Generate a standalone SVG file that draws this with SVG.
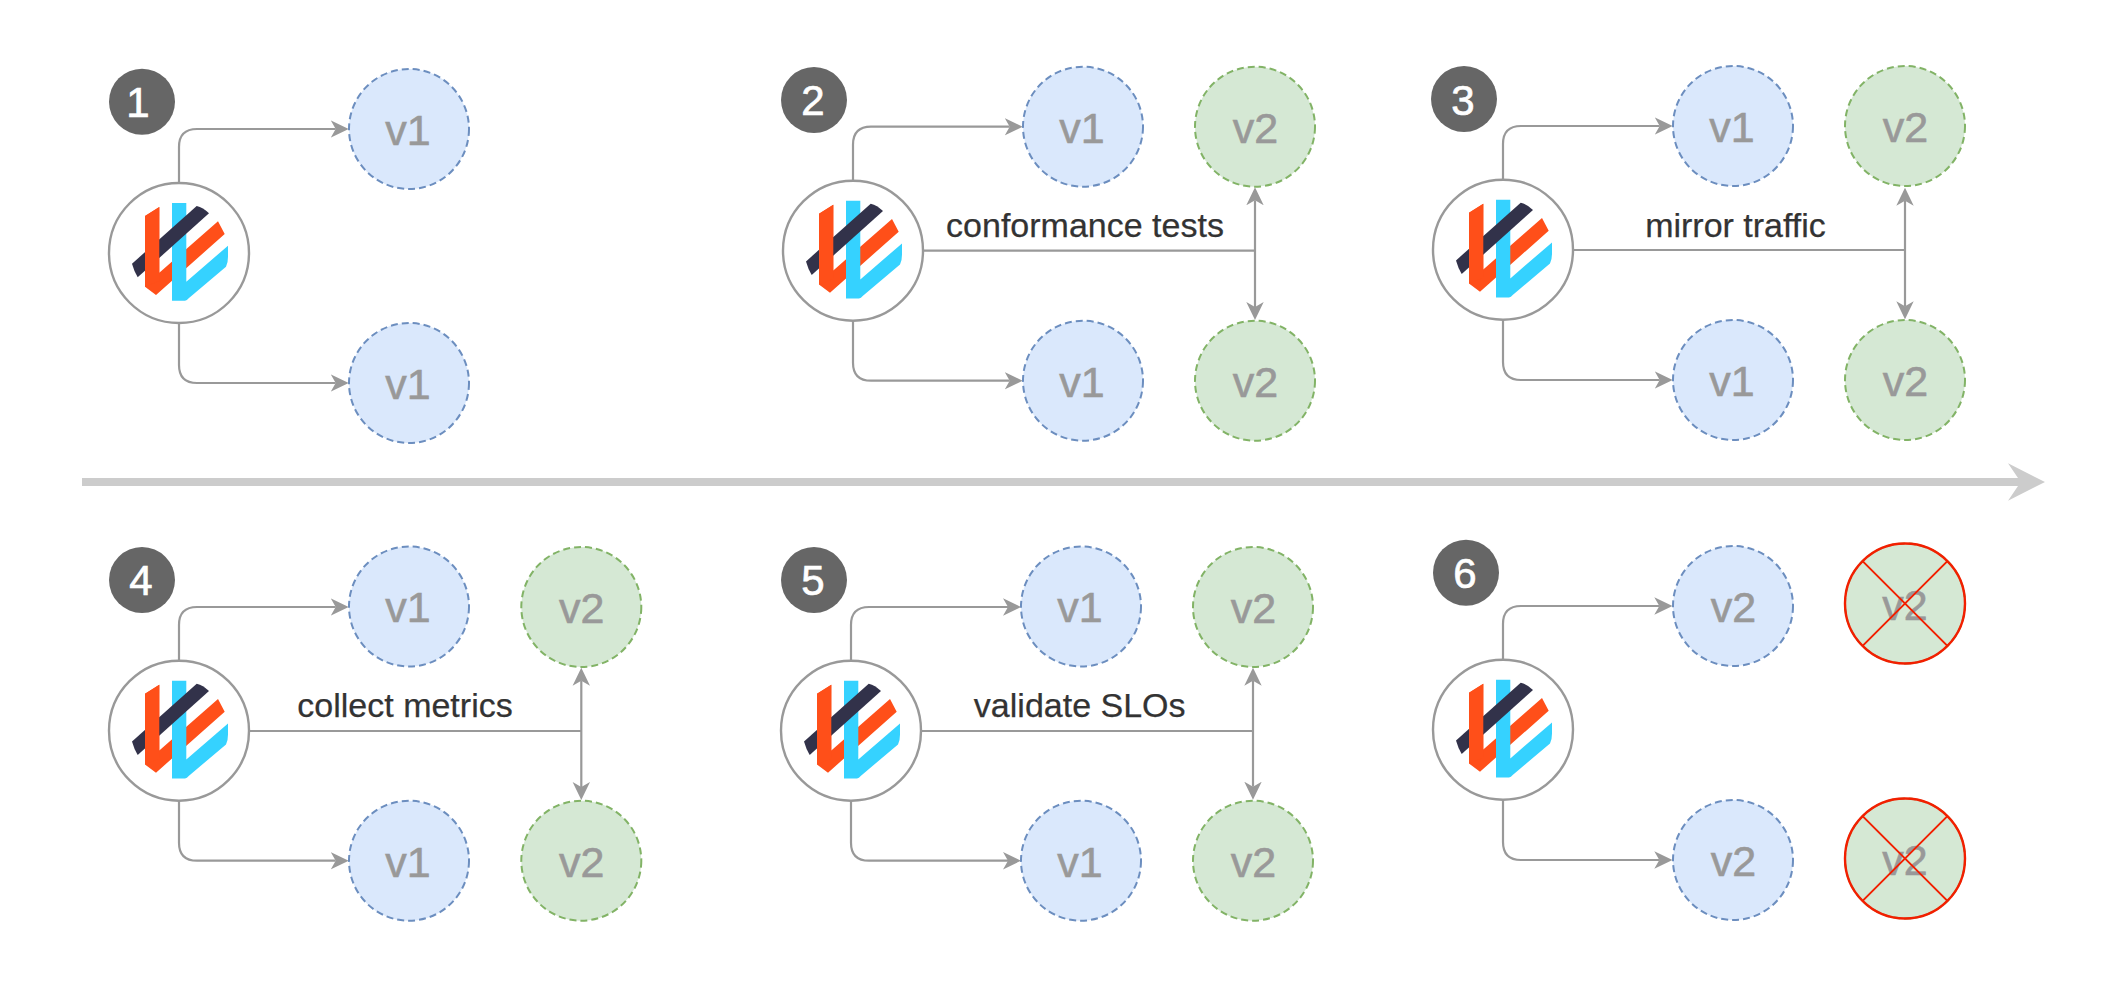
<svg xmlns="http://www.w3.org/2000/svg" width="2116" height="982" viewBox="0 0 2116 982">
<style>
text{font-family:"Liberation Sans",Arial,sans-serif}
.c{fill:none;stroke:#999;stroke-width:2.2}
.a{marker-end:url(#arr)}
.d{marker-start:url(#arr);marker-end:url(#arr)}
.logo{fill:#fff;stroke:#999;stroke-width:2.4}
.b{fill:#666}
.bt{fill:#fff;stroke:#fff;stroke-width:.7;font-size:42px;text-anchor:middle}
.v1c{fill:#dae8fc;stroke:#6c8ebf;stroke-width:2;stroke-dasharray:7 4}
.v2c{fill:#d5e8d4;stroke:#82b366;stroke-width:2;stroke-dasharray:7 4}
.vt{fill:#999;stroke:#999;stroke-width:.6;font-size:43px;text-anchor:middle}
.lb{fill:#333;stroke:#333;stroke-width:.25;font-size:34px;text-anchor:middle}
.x{fill:none;stroke:#f21f00;stroke-width:2.4}
.xl{fill:none;stroke:#f21f00;stroke-width:2}
</style>
<defs>
<marker id="arr" markerUnits="userSpaceOnUse" viewBox="0 0 18 18" refX="5" refY="9" markerWidth="18" markerHeight="18" orient="auto-start-reverse"><path d="M0 .3L18 9L0 17.7L5 9Z" fill="#999"/></marker>
<g id="lg">
<circle class="logo" r="70"/>
<path fill="#ff4f19" d="M-34-37L-19.7-46V19.7L39-31.7L45.7-19L-23 42L-34 33.7Z"/>
<path fill="#35d2ff" d="M-7-50H7.3V28.7L49-7.3V3.7Q49 10 47 13.7L9.7 45.3Q8 47.7 6 47.7H-7Z"/>
<path fill="#32324a" d="M-47 10.7L17.7-47Q24-45.5 30-39.7L-41.3 24.3Q-45 18-47 10.7Z"/>
<path fill="#ff4f19" d="M-34-37L-19.7-46V28L-34 33.7Z"/>
</g>
</defs>
<rect width="2116" height="982" fill="#fff"/>
<g id="connectors">
<path class="c a" d="M179 183V147Q179 129 197 129H335.7"/>
<path class="c a" d="M179 323V365Q179 383 197 383H335.7"/>
<path class="c a" d="M853 180.7V144.7Q853 126.7 871 126.7H1009.7"/>
<path class="c a" d="M853 320.7V362.7Q853 380.7 871 380.7H1009.7"/>
<path class="c" d="M923 250.7H1255"/>
<path class="c d" d="M1255 200.3V307"/>
<path class="c a" d="M1503 179.7V144Q1503 126 1521 126H1659.7"/>
<path class="c a" d="M1503 319.7V362Q1503 380 1521 380H1659.7"/>
<path class="c" d="M1573 250H1905"/>
<path class="c d" d="M1905 200.7V306.3"/>
<path class="c a" d="M179 660.7V625Q179 607 197 607H335.7"/>
<path class="c a" d="M179 800.7V842.7Q179 860.7 197 860.7H335.7"/>
<path class="c" d="M249 731H581.3"/>
<path class="c d" d="M581.3 680.7V787"/>
<path class="c a" d="M851 660.7V625Q851 607 869 607H1008"/>
<path class="c a" d="M851 800.7V842.7Q851 860.7 869 860.7H1008"/>
<path class="c" d="M921 731H1253"/>
<path class="c d" d="M1253 680.7V786.7"/>
<path class="c a" d="M1503 659.7V624Q1503 606 1521 606H1659.3"/>
<path class="c a" d="M1503 799.7V842Q1503 860 1521 860H1659.3"/>
<path d="M82 478H2018L2008 463.3L2045 482L2008 500.7L2018 486H82Z" fill="#ccc"/>
</g>
<g id="panel1">
<g id="badge1"><circle class="b" cx="142" cy="101.7" r="33"/><text class="bt" x="138" y="117">1</text></g>
<g id="proxy1"><use href="#lg" x="179" y="253"/></g>
<g id="p1-v1a"><circle class="v1c" cx="409" cy="129" r="60"/><text class="vt" x="408" y="145">v1</text></g>
<g id="p1-v1b"><circle class="v1c" cx="409" cy="383" r="60"/><text class="vt" x="408" y="399">v1</text></g>
</g>
<g id="panel2">
<g id="badge2"><circle class="b" cx="814" cy="100" r="33"/><text class="bt" x="813" y="115">2</text></g>
<g id="proxy2"><use href="#lg" x="853" y="250.7"/></g>
<g id="p2-v1a"><circle class="v1c" cx="1083" cy="126.7" r="60"/><text class="vt" x="1082" y="142.5">v1</text></g>
<g id="p2-v1b"><circle class="v1c" cx="1083" cy="380.7" r="60"/><text class="vt" x="1082" y="396.5">v1</text></g>
<g id="p2-v2a"><circle class="v2c" cx="1255" cy="126.7" r="60"/><text class="vt" x="1255.5" y="142.5">v2</text></g>
<g id="p2-v2b"><circle class="v2c" cx="1255" cy="380.7" r="60"/><text class="vt" x="1255.5" y="396.5">v2</text></g>
<text class="lb" x="1085" y="237">conformance tests</text>
</g>
<g id="panel3">
<g id="badge3"><circle class="b" cx="1464" cy="99" r="33"/><text class="bt" x="1463" y="115">3</text></g>
<g id="proxy3"><use href="#lg" x="1503" y="249.7"/></g>
<g id="p3-v1a"><circle class="v1c" cx="1733" cy="126" r="60"/><text class="vt" x="1732" y="141.5">v1</text></g>
<g id="p3-v1b"><circle class="v1c" cx="1733" cy="380" r="60"/><text class="vt" x="1732" y="395.5">v1</text></g>
<g id="p3-v2a"><circle class="v2c" cx="1905" cy="126" r="60"/><text class="vt" x="1905.5" y="141.5">v2</text></g>
<g id="p3-v2b"><circle class="v2c" cx="1905" cy="380" r="60"/><text class="vt" x="1905.5" y="395.5">v2</text></g>
<text class="lb" x="1735.5" y="237">mirror traffic</text>
</g>
<g id="panel4">
<g id="badge4"><circle class="b" cx="142" cy="580" r="33"/><text class="bt" x="141" y="595">4</text></g>
<g id="proxy4"><use href="#lg" x="179" y="730.7"/></g>
<g id="p4-v1a"><circle class="v1c" cx="409" cy="606.5" r="60"/><text class="vt" x="408" y="622">v1</text></g>
<g id="p4-v1b"><circle class="v1c" cx="409" cy="860.7" r="60"/><text class="vt" x="408" y="876.5">v1</text></g>
<g id="p4-v2a"><circle class="v2c" cx="581.3" cy="607" r="60"/><text class="vt" x="581.8" y="622.5">v2</text></g>
<g id="p4-v2b"><circle class="v2c" cx="581.3" cy="860.7" r="60"/><text class="vt" x="581.8" y="876.5">v2</text></g>
<text class="lb" x="405" y="717">collect metrics</text>
</g>
<g id="panel5">
<g id="badge5"><circle class="b" cx="814" cy="580" r="33"/><text class="bt" x="813" y="595">5</text></g>
<g id="proxy5"><use href="#lg" x="851" y="730.7"/></g>
<g id="p5-v1a"><circle class="v1c" cx="1081" cy="606.5" r="60"/><text class="vt" x="1080" y="622">v1</text></g>
<g id="p5-v1b"><circle class="v1c" cx="1081" cy="860.7" r="60"/><text class="vt" x="1080" y="876.5">v1</text></g>
<g id="p5-v2a"><circle class="v2c" cx="1253" cy="607" r="60"/><text class="vt" x="1253.5" y="622.5">v2</text></g>
<g id="p5-v2b"><circle class="v2c" cx="1253" cy="860.7" r="60"/><text class="vt" x="1253.5" y="876.5">v2</text></g>
<text class="lb" x="1079.7" y="717">validate SLOs</text>
</g>
<g id="panel6">
<g id="badge6"><circle class="b" cx="1466" cy="572.7" r="33"/><text class="bt" x="1465" y="588">6</text></g>
<g id="proxy6"><use href="#lg" x="1503" y="729.7"/></g>
<g id="p6-v2a"><circle class="v1c" cx="1733" cy="606" r="60"/><text class="vt" x="1733.5" y="621.5">v2</text></g>
<g id="p6-v2b"><circle class="v1c" cx="1733" cy="860" r="60"/><text class="vt" x="1733.5" y="875.5">v2</text></g>
<g id="p6-x1"><circle class="v2c" cx="1905" cy="603.5" r="60"/><text class="vt" x="1905" y="620">v2</text><circle class="x" cx="1905" cy="603.5" r="60"/><path class="xl" d="M1862.6 561.1L1947.4 645.9M1947.4 561.1L1862.6 645.9"/></g>
<g id="p6-x2"><circle class="v2c" cx="1905" cy="858.5" r="60"/><text class="vt" x="1905" y="875">v2</text><circle class="x" cx="1905" cy="858.5" r="60"/><path class="xl" d="M1862.6 816.1L1947.4 900.9M1947.4 816.1L1862.6 900.9"/></g>
</g>
</svg>
